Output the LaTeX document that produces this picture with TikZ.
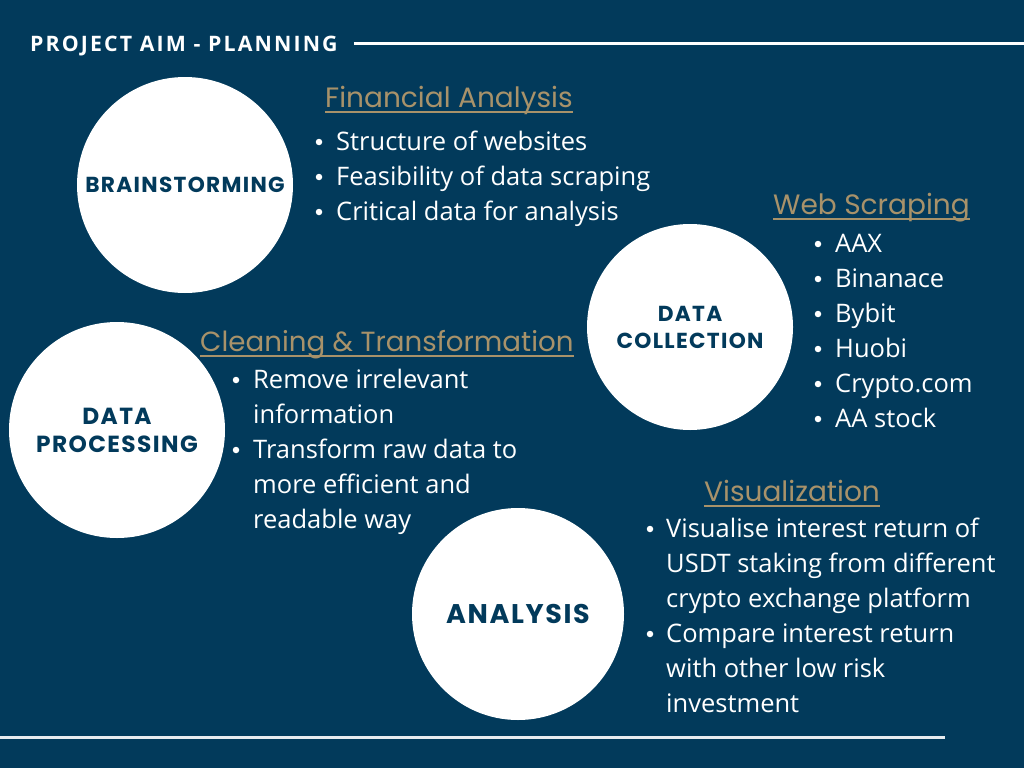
\documentclass[tikz,border=0pt]{standalone}
\usepackage{fontspec}
\setmainfont{Open Sans}
\newfontfamily\headfont{Poppins}
\newfontfamily\circfont{Poppins}[LetterSpace=6]
\newfontfamily\titlefont{Open Sans}[LetterSpace=10]
\definecolor{navy}{HTML}{023A5B}
\definecolor{gold}{HTML}{A8926A}

\tikzset{
  cerchio/.style={circle, fill=white, minimum size=#1},
  etichetta/.style={text=navy, font=\circfont\bfseries\fontsize{21.7}{27}\selectfont, align=center},
  titolo/.style={text=gold, font=\headfont\fontsize{28}{30}\selectfont, anchor=base west, inner sep=0pt},
  elenco/.style={text=white, font=\fontsize{25.5}{35}\selectfont, anchor=north west, inner sep=0pt, align=left},
  punto/.style={fill=white, circle, inner sep=0pt, minimum size=6.5pt}
}

\begin{document}
\begin{tikzpicture}[x=1pt, y=-1pt]
        % Sfondo
        \fill[navy] (0,0) rectangle (1024,768);
        \useasboundingbox (0,0) rectangle (1024,768);

        % Titolo e linee
        \node[text=white, font=\titlefont\bfseries\fontsize{21.3}{24}\selectfont, anchor=west, inner sep=0pt] (aim) at (30,46) {PROJECT AIM - PLANNING};
        \coordinate (fine) at (1024,44);
        \draw[white, line width=3pt] ([xshift=16pt]aim.east |- fine) -- (fine);
        \coordinate (basso1) at (0,737);
        \coordinate (basso2) at (945,737);
        \draw[white!90!navy, line width=3pt] (basso1) -- (basso2);

        % Cerchi
        \node[cerchio=216pt] (brain) at (185,185) {};
        \node[etichetta] at (brain) {BRAINSTORMING};
        \node[cerchio=206pt] (coll) at (690,327) {};
        \node[etichetta] at (coll) {DATA\\COLLECTION};
        \node[cerchio=216pt] (proc) at (117,430) {};
        \node[etichetta, font=\circfont\bfseries\fontsize{23.3}{28}\selectfont] at (proc) {DATA\\PROCESSING};
        \node[cerchio=212pt] (anal) at (518,614) {};
        \node[etichetta, font=\circfont\bfseries\fontsize{27}{30}\selectfont] at (anal) {ANALYSIS};

        % Titoli sottolineati
        \node[titolo] (fin) at (325,107) {Financial Analysis};
        \draw[gold, line width=1.5pt] ([yshift=-5pt]fin.base west) -- ([yshift=-5pt]fin.base east);
        \node[titolo] (web) at (773,214) {Web Scraping};
        \draw[gold, line width=1.5pt] ([yshift=-5pt]web.base west) -- ([yshift=-5pt]web.base east);
        \node[titolo, font=\headfont\fontsize{27.7}{30}\selectfont] (clean) at (200,351) {Cleaning \& Transformation};
        \draw[gold, line width=1.5pt] ([yshift=-5pt]clean.base west) -- ([yshift=-5pt]clean.base east);
        \node[titolo] (vis) at (704,501) {Visualization};
        \draw[gold, line width=1.5pt] ([yshift=-5pt]vis.base west) -- ([yshift=-5pt]vis.base east);

        % Elenchi puntati (la y e' la linea di base meno 24.5)
        \foreach \testo [count=\i] in {Structure of websites, Feasibility of data scraping, Critical data for analysis}{
          \node[elenco] (fin\i) at (336,{115+35*\i-24.5}) {\strut\testo};
          \node[punto] (pfin\i) at (319,{107+35*\i}) {};
        }
        \foreach \testo [count=\i] in {AAX, Binanace, Bybit, Huobi, Crypto.com, AA stock}{
          \node[elenco] (web\i) at (835,{217+35*\i-24.5}) {\strut\testo};
          \node[punto] (pweb\i) at (818,{209+35*\i}) {};
        }
        \node[elenco] (clean1) at (253,363.5) {\strut Remove irrelevant\\information};
        \node[punto] (pclean1) at (236,380) {};
        \node[elenco] (clean2) at (253,433.5) {\strut Transform raw data to\\more efficient and\\readable way};
        \node[punto] (pclean2) at (236,450) {};
        \node[elenco] (vis1) at (666,512.5) {\strut Visualise interest return of\\USDT staking from different\\crypto exchange platform};
        \node[punto] (pvis1) at (650,529) {};
        \node[elenco] (vis2) at (666,617.5) {\strut Compare interest return\\with other low risk\\investment};
        \node[punto] (pvis2) at (650,634) {};
\end{tikzpicture}
\end{document}
